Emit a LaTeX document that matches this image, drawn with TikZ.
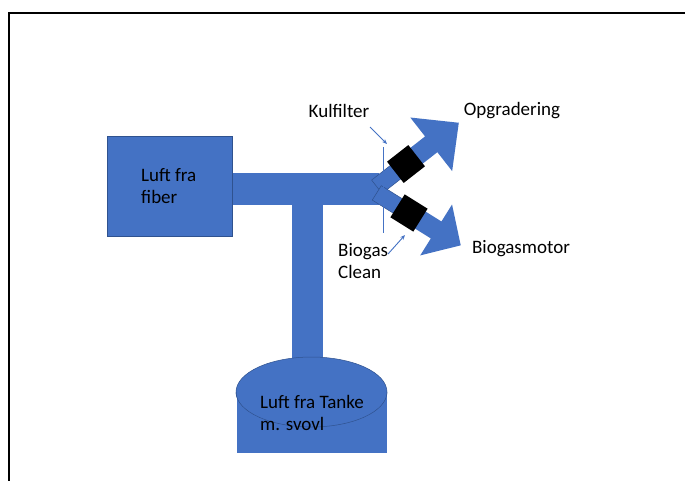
\documentclass[tikz,border=0pt]{standalone}
\usepackage{fontspec}
\setmainfont{Carlito}
\usetikzlibrary{arrows.meta}
\definecolor{pblue}{HTML}{4472C4}
\definecolor{pdark}{HTML}{2F528F}
\begin{document}
\begin{tikzpicture}[x=1pt,y=-1pt,
  txt/.style={font=\fontsize{19}{22}\selectfont, inner sep=0pt, align=left, text=black},
  pipe/.style={fill=pblue},
  edgeblue/.style={fill=pblue, draw=pdark, line width=0.5pt},
  filterbox/.style={fill=black},
  callout/.style={draw=pblue, line width=0.9pt, -{Stealth[length=5pt,width=4pt]}}]
\useasboundingbox (0,0) rectangle (685,480);
\clip (0,0) rectangle (685,480);
\fill[white] (0,0) rectangle (685,480);
\draw[line width=2pt] (9,13) rectangle (720,520);

% pipes
\fill[pipe] (232,173) rectangle (379,205);
\fill[pipe] (292,204) rectangle (323,362);

% source box
\node[edgeblue, minimum width=125pt, minimum height=100pt, inner sep=0pt] (fiber) at (169.5,186) {};
\node[txt, anchor=west] (fibertxt) at (141,186) {Luft fra\\fiber};

% tank
\filldraw[edgeblue] (311.5,392) ellipse [x radius=75.5pt, y radius=35pt];
\fill[pipe] (236.5,392) rectangle (386.5,453);
\draw[pdark, line width=0.5pt] (236,392) arc[start angle=180, end angle=360, x radius=75.5pt, y radius=35pt];
\node[txt, anchor=west] (tanktxt) at (260,413) {Luft fra Tanke\\m. svovl};

% upper branch
\begin{scope}[shift={(406,164)}, rotate=38]
  \filldraw[edgeblue] (-37,-8.5) rectangle (-13,8.5);
  \fill[pipe] (12,-10) -- (32,-10) -- (32,-34) -- (67,0) -- (32,34) -- (32,10) -- (12,10) -- cycle;
  \fill[filterbox] (-13.5,-13.5) rectangle (13.5,13.5);
\end{scope}

% lower branch
\begin{scope}[shift={(409,213)}, rotate=-32]
  \filldraw[edgeblue] (-38,-8.5) rectangle (-13,8.5);
  \fill[pipe] (12,-10) -- (32,-10) -- (32,-30) -- (61,0) -- (32,30) -- (32,10) -- (12,10) -- cycle;
  \fill[filterbox] (-13.5,-13.5) rectangle (13.5,13.5);
\end{scope}

% marker line
\coordinate (mtop) at (383,147);
\coordinate (mbot) at (383,233);
\draw[pblue, line width=0.9pt] (mtop) -- (mbot);

% labels
\node[txt] (kul) at (339,111) {Kulfilter};
\node[txt] (opg) at (512,111) {Opgradering};
\node[txt] (bmot) at (521,249) {Biogasmotor};
\node[txt, anchor=west] (bclean) at (338,261) {Biogas\\Clean};

% callouts
\coordinate (k1) at (370,127);
\coordinate (k2) at (387,144);
\draw[callout] (k1) -- (k2);
\coordinate (b1) at (388,254);
\coordinate (b2) at (405,235);
\draw[callout] (b1) -- (b2);
\end{tikzpicture}
\end{document}
